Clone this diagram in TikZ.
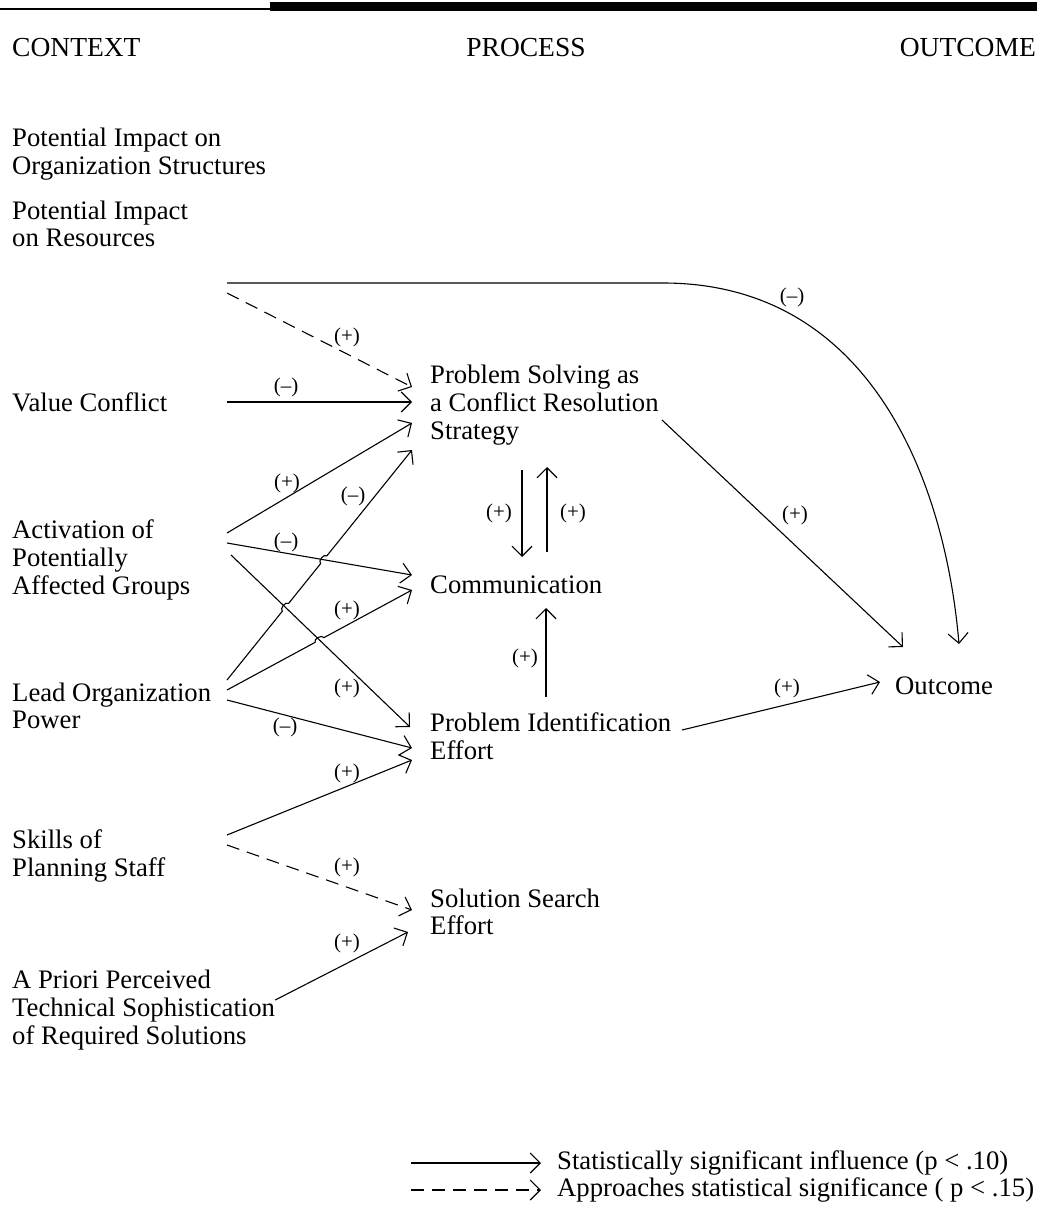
\documentclass[tikz,border=0pt]{standalone}
\usepackage{fontspec}
\setmainfont{Liberation Serif}
\usetikzlibrary{arrows.meta,calc,intersections}

\tikzset{
  every node/.style={font=\fontsize{26.7}{27.7}\selectfont, inner sep=0pt},
  head/.style={font=\fontsize{27.5}{28}\selectfont},
  ctx/.style={anchor=west, align=left},
  proc/.style={anchor=west, align=left, inner xsep=18pt},
  sig/.style={line width=1.1pt, -{Straight Barb[length=10pt,width=20pt]}},
  appr/.style={sig, dash pattern=on 13pt off 8pt},
  sgn/.style={font=\fontsize{21}{23}\selectfont},
}

\begin{document}
\begin{tikzpicture}[x=1pt,y=-1pt]
\useasboundingbox (0,0) rectangle (1037,1215);
% top rule
\draw[line width=1.5pt] (0,9) -- (270,9);
\fill (270,2) rectangle (1037,11);

% column heads
\node[head,anchor=west] (hctx) at (12,48) {CONTEXT};
\node[head] (hproc) at (526,48) {PROCESS};
\node[head,anchor=east] (hout) at (1036,48) {OUTCOME};

% context (arrows leave at x = west + 215)
\node[ctx] (org) at (12,154) {Potential Impact on\\Organization Structures};
\node[ctx] (res) at (12,224) {Potential Impact\\on Resources};
\node[ctx] (vc) at (12,402) {Value Conflict};
\node[ctx] (act) at (12,560) {Activation of\\Potentially\\Affected Groups};
\node[ctx] (lead) at (12,706) {Lead Organization\\Power};
\node[ctx] (skill) at (12,856) {Skills of\\Planning Staff};
\node[ctx] (apri) at (12,1010) {A Priori Perceived\\Technical Sophistication\\of Required Solutions};

% process
\node[proc] (ps) at (412,405) {Problem Solving as\\a Conflict Resolution\\Strategy};
\node[proc] (comm) at (412,585) {Communication};
\node[proc] (pie) at (412,736) {Problem Identification\\Effort};
\node[proc] (sse) at (412,912) {Solution Search\\Effort};

% outcome
\node[anchor=west,inner xsep=15pt] (out) at (880,686) {Outcome};

% resources
\coordinate (rs) at ($(res.west)+(215,59)$);
\coordinate (oe) at ($(out.west)+(79,-42)$);
\draw[sig] (rs) -- ($(rs)+(436,0)$) .. controls ($(rs)+(643,0)$) and ($(oe)+(-14,-164)$) .. (oe);
\node[sgn] at (792,297) {(–)};
\draw[appr] ($(res.west)+(215,69)$) -- ($(ps.west)+(0,-18)$);
\node[sgn] at (347,337) {(+)};

% value conflict
\draw[sig] ($(vc.west)+(215,0)$) -- (vc.west -| ps.west);
\node[sgn] at (286,387) {(–)};

% activation
\draw[sig] ($(act.west)+(215,-27)$) -- ($(ps.west)+(0,18)$);
\node[sgn] at (287,483) {(+)};
\coordinate (acs) at ($(act.west)+(215,-17)$);
\coordinate (ace) at ($(comm.west)+(0,-10)$);
\draw[sig,name path=acom] (acs) -- (ace);
\node[sgn] at (286,542) {(–)};
\coordinate (aps) at ($(act.west)+(219,-5)$);
\coordinate (ape) at ($(pie.west)+(-2,-9)$);
\draw[sig,name path=apie] (aps) -- (ape);
\node[sgn] at (347,688) {(+)};

% lead organization, with hops
\coordinate (lp1) at ($(lead.west)+(215,-26)$);
\coordinate (pp1) at ($(ps.west)+(0,45)$);
\path[name path=lps] (lp1) -- (pp1);
\path[name intersections={of=lps and apie,by=hA}];
\path[name intersections={of=lps and acom,by=hB}];
\draw[sig] (lp1) -- ($(hA)!5pt!(lp1)$) to[bend left=90] ($(hA)!5pt!(pp1)$)
  -- ($(hB)!5pt!(lp1)$) to[bend left=90] ($(hB)!5pt!(pp1)$) -- (pp1);
\node[sgn] at (353,496) {(–)};
\coordinate (lp2) at ($(lead.west)+(215,-16)$);
\coordinate (ce2) at ($(comm.west)+(0,5)$);
\path[name path=lcm] (lp2) -- (ce2);
\path[name intersections={of=lcm and apie,by=hC}];
\draw[sig] (lp2) -- ($(hC)!5pt!(lp2)$) to[bend left=90] ($(hC)!5pt!(ce2)$) -- (ce2);
\node[sgn] at (347,610) {(+)};
\draw[sig] ($(lead.west)+(215,-6)$) -- ($(pie.west)+(0,12)$);
\node[sgn] at (285,727) {(–)};

% skills and a priori
\draw[sig] ($(skill.west)+(215,-21)$) -- ($(pie.west)+(0,24)$);
\node[sgn] at (347,773) {(+)};
\draw[appr] ($(skill.west)+(215,-11)$) -- ($(sse.west)+(0,-2)$);
\node[sgn] at (347,867) {(+)};
\draw[sig] ($(apri.east)+(0,-10)$) -- ($(sse.west)+(-4,20)$);
\node[sgn] at (347,943) {(+)};

% between processes
\draw[sig] ($(ps.west)+(110,65)$) -- ($(comm.west)+(110,-28)$);
\draw[sig] ($(comm.west)+(135,-33)$) -- ($(ps.west)+(135,62)$);
\node[sgn] at (499,513) {(+)};
\node[sgn] at (573,513) {(+)};
\draw[sig] ($(pie.west)+(134,-39)$) -- ($(comm.west)+(134,23)$);
\node[sgn] at (525,658) {(+)};

% to outcome
\draw[sig] ($(ps.west)+(250,15)$) -- ($(out.west)+(23,-39)$);
\node[sgn] at (795,515) {(+)};
\draw[sig] ($(pie.west)+(270,-6)$) -- ($(out.west)+(0,-4)$);
\node[sgn] at (787,688) {(+)};

% legend
\node[anchor=west] (lsig) at (557,1163) {Statistically significant influence (p < .10)};
\node[anchor=west] (lapp) at (557,1190) {Approaches statistical significance ( p < .15)};
\coordinate (lsigs) at (411,1163);
\coordinate (lapps) at (411,1190);
\draw[sig] (lsigs) -- ($(lsig.west)+(-16,0)$);
\draw[appr] (lapps) -- ($(lapp.west)+(-16,0)$);
\end{tikzpicture}
\end{document}
